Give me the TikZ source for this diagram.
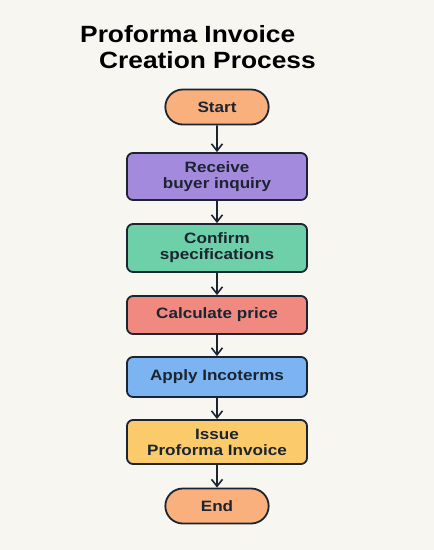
\documentclass[tikz,border=0pt]{standalone}
\usepackage{fontspec}
\setmainfont{Liberation Sans}[FakeStretch=1.14]
\newfontfamily\titlefont{Liberation Sans}[FakeStretch=1.12]
\usetikzlibrary{arrows.meta,shapes.misc}
\definecolor{bg}{HTML}{F8F6F1}
\definecolor{ink}{HTML}{1B2431}
\definecolor{corange}{HTML}{F9B07C}
\definecolor{cpurple}{HTML}{A48ADC}
\definecolor{cgreen}{HTML}{6ED0A8}
\definecolor{cred}{HTML}{F08A80}
\definecolor{cblue}{HTML}{7BB4F0}
\definecolor{cyellow}{HTML}{FBCB6B}
\tikzset{
  box/.style={draw=ink, line width=1.8pt, rounded corners=6pt, minimum width=180pt, align=center, text=ink, font=\fontsize{15}{16}\selectfont\bfseries, inner sep=0pt},
  term/.style={draw=ink, line width=1.8pt, rounded rectangle, minimum width=110pt, minimum height=35pt, fill=corange, text=ink, font=\fontsize{15}{16}\selectfont\bfseries},
  flow/.style={draw=ink, line width=1.6pt, -{Straight Barb[length=7pt,width=11pt,line width=1.6pt]}},
  title/.style={anchor=base west, inner sep=0pt, text=black, font=\titlefont\fontsize{23.5}{24}\selectfont\bfseries},
}
\begin{document}
\begin{tikzpicture}[x=1pt,y=-1pt]
\useasboundingbox (0,0) rectangle (434,550);
\fill[bg] (0,0) rectangle (434,550);
\node[title] (t1) at (80,42) {Proforma Invoice};
\node[title] (t2) at (99,68) {Creation Process};
\node[term] (start) at (217,107) {Start};
\node[box, fill=cpurple, minimum height=47pt] (recv) at (217,176.5) {Receive\\buyer inquiry};
\node[box, fill=cgreen, minimum height=48pt] (conf) at (217,248) {Confirm\\specifications};
\node[box, fill=cred, minimum height=38pt] (calc) at (217,315) {Calculate price};
\node[box, fill=cblue, minimum height=40pt] (inco) at (217,377) {Apply Incoterms};
\node[box, fill=cyellow, minimum height=44pt] (issue) at (217,442) {Issue\\Proforma Invoice};
\node[term] (end) at (217,506) {End};
\draw[flow] (start) -- (recv);
\draw[flow] (recv) -- (conf);
\draw[flow] (conf) -- (calc);
\draw[flow] (calc) -- (inco);
\draw[flow] (inco) -- (issue);
\draw[flow] (issue) -- (end);
\end{tikzpicture}
\end{document}
